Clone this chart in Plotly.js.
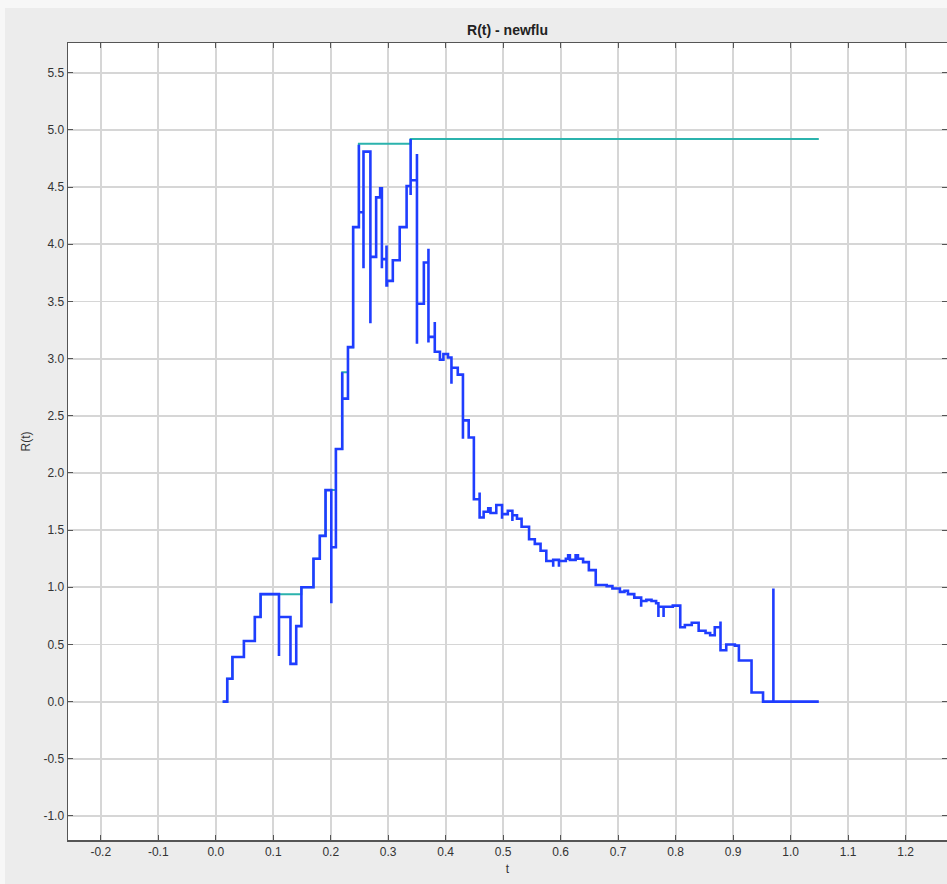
<!DOCTYPE html>
<html>
<head>
<meta charset="utf-8">
<script src="https://cdn.plot.ly/plotly-3.0.1.min.js"></script>
<style>html,body{margin:0;padding:0;background:#ececec;}#chart{width:947px;height:884px;}</style>
</head>
<body>
<div id="chart"></div>
<script>
// R(t) estimate (blue stairs): each point starts a new step level
const tSteps = [0.012,0.020,0.029,0.049,0.068,0.078,0.110,0.110,0.130,0.140,0.149,0.170,0.181,0.191,0.201,0.201,0.209,0.220,0.220,0.230,0.239,0.249,0.249,0.257,0.257,0.269,0.269,0.279,0.286,0.289,0.289,0.297,0.297,0.298,0.308,0.320,0.332,0.339,0.339,0.339,0.350,0.350,0.350,0.362,0.370,0.370,0.370,0.381,0.381,0.390,0.396,0.404,0.410,0.410,0.410,0.421,0.430,0.430,0.430,0.440,0.449,0.459,0.459,0.459,0.466,0.474,0.478,0.488,0.498,0.498,0.508,0.516,0.516,0.524,0.532,0.545,0.555,0.565,0.575,0.587,0.587,0.597,0.597,0.609,0.613,0.616,0.626,0.630,0.639,0.649,0.661,0.680,0.690,0.703,0.711,0.717,0.728,0.740,0.740,0.749,0.758,0.766,0.770,0.770,0.779,0.779,0.795,0.808,0.816,0.828,0.840,0.852,0.860,0.868,0.878,0.878,0.888,0.903,0.910,0.932,0.952,0.970,0.970,1.049];
const rSteps = [0.00,0.20,0.39,0.53,0.74,0.94,0.40,0.74,0.33,0.66,1.00,1.25,1.45,1.85,0.86,1.35,2.21,2.88,2.65,3.10,4.15,4.87,4.28,3.79,4.81,3.31,3.89,4.41,4.49,3.79,3.87,3.99,3.64,3.68,3.86,4.15,4.51,4.43,4.92,4.56,4.79,3.13,3.48,3.84,3.96,3.14,3.19,3.32,3.06,2.99,3.04,3.01,2.94,2.78,2.92,2.86,2.55,2.30,2.46,2.31,1.77,1.83,1.60,1.61,1.66,1.69,1.65,1.72,1.60,1.64,1.67,1.58,1.63,1.60,1.53,1.42,1.38,1.32,1.23,1.18,1.24,1.18,1.23,1.25,1.28,1.24,1.28,1.25,1.22,1.15,1.02,1.01,0.99,0.96,0.97,0.94,0.91,0.83,0.88,0.89,0.88,0.86,0.74,0.83,0.74,0.83,0.84,0.65,0.67,0.69,0.62,0.60,0.58,0.65,0.70,0.45,0.50,0.49,0.36,0.08,0.00,0.99,0.00,0.00];
// running maximum (teal stairs)
const tMax = [0.012,0.020,0.029,0.049,0.068,0.078,0.149,0.170,0.181,0.191,0.209,0.220,0.230,0.239,0.249,0.339,1.049];
const rMax = [0.00,0.20,0.39,0.53,0.74,0.94,1.00,1.25,1.45,1.85,2.21,2.88,3.10,4.15,4.88,4.92,4.92];

// tick labels (hyphen minus, as in the original)
const xTickVals = [-0.2,-0.1,0.0,0.1,0.2,0.3,0.4,0.5,0.6,0.7,0.8,0.9,1.0,1.1,1.2];
const xTickText = ["-0.2","-0.1","0.0","0.1","0.2","0.3","0.4","0.5","0.6","0.7","0.8","0.9","1.0","1.1","1.2"];
const yTickVals = [-1.0,-0.5,0.0,0.5,1.0,1.5,2.0,2.5,3.0,3.5,4.0,4.5,5.0,5.5];
const yTickText = ["-1.0","-0.5","0.0","0.5","1.0","1.5","2.0","2.5","3.0","3.5","4.0","4.5","5.0","5.5"];

const chartTitle = "R(t) - newflu";
const xLabel = "t";
const yLabel = "R(t)";

const traces = [
  {x: tMax, y: rMax, type: "scatter", mode: "lines", line: {shape: "hv", color: "#2bb3ad", width: 2}, hoverinfo: "skip"},
  {x: tSteps, y: rSteps, type: "scatter", mode: "lines", line: {shape: "hv", color: "#1f3dff", width: 2.6}}
];

const axisCommon = {
  showgrid: true, gridcolor: "#d6d6d6", gridwidth: 1.8,
  zeroline: false, showline: true, linecolor: "#555555", linewidth: 1.5,
  ticks: "inside", ticklen: 5, tickcolor: "#555555", mirror: "ticks",
  tickfont: {family: "Liberation Sans, Arial, sans-serif", size: 12, color: "#333333"},
  tickmode: "array"
};

const layout = {
  width: 947, height: 884,
  paper_bgcolor: "#ececec", plot_bgcolor: "#ffffff",
  margin: {l: 68, r: 0, t: 43, b: 44},
  showlegend: false,
  title: {text: chartTitle, font: {family: "Liberation Sans, Arial, sans-serif", size: 14, color: "#222222", weight: "bold"}, x: 0.5, xref: "paper", xanchor: "center", y: 1 - 30/884, yref: "container", yanchor: "middle"},
  xaxis: Object.assign({}, axisCommon, {range: [-0.257, 1.272], tickvals: xTickVals, ticktext: xTickText,
    title: {text: xLabel, standoff: 6, font: {family: "Liberation Sans, Arial, sans-serif", size: 12, color: "#333333"}}}),
  yaxis: Object.assign({}, axisCommon, {range: [-1.21, 5.76], tickvals: yTickVals, ticktext: yTickText,
    title: {text: yLabel, standoff: 10, font: {family: "Liberation Sans, Arial, sans-serif", size: 12, color: "#333333"}}}),
  shapes: [
    {type: "rect", xref: "paper", yref: "paper", x0: -0.2, x1: 1.2, y0: 1 + 35/797, y1: 1.2, fillcolor: "#f7f7f7", line: {width: 0}, layer: "below"},
    {type: "rect", xref: "paper", yref: "paper", x0: -0.2, x1: -63/879, y0: -0.2, y1: 1.2, fillcolor: "#f7f7f7", line: {width: 0}, layer: "below"}
  ]
};

Plotly.newPlot("chart", traces, layout, {displayModeBar: false, staticPlot: true});
</script>
</body>
</html>
